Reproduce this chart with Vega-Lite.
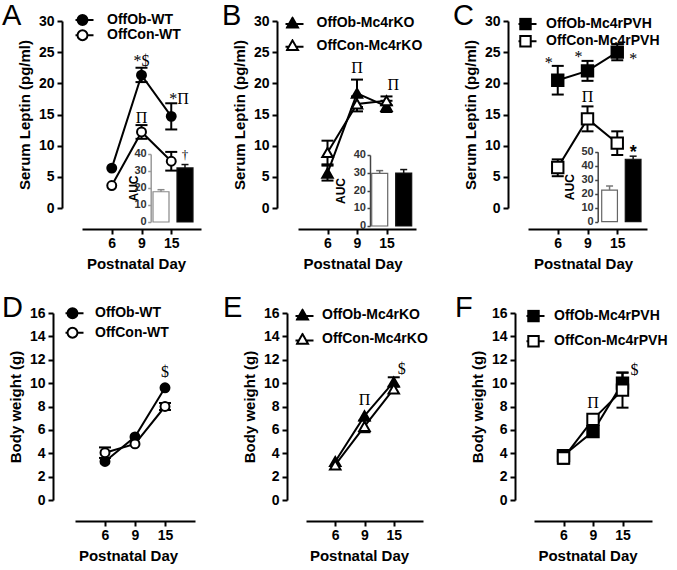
{
"$schema": "https://vega.github.io/schema/vega-lite/v6.json",
"padding": {"left": 2, "top": 1, "right": 2, "bottom": 2},
"background": "white",
"datasets": {
"ptsA": [
{"group":"OffOb-WT","day":6,"value":6.4},
{"group":"OffOb-WT","day":9,"value":21.3,"lo":20.2,"hi":22.5},
{"group":"OffOb-WT","day":15,"value":14.7,"lo":12.6,"hi":16.8},
{"group":"OffCon-WT","day":6,"value":3.6},
{"group":"OffCon-WT","day":9,"value":12.2,"lo":11.1,"hi":13.3},
{"group":"OffCon-WT","day":15,"value":7.5,"lo":6.0,"hi":9.0}],
"ptsB": [
{"group":"OffOb-Mc4rKO","day":6,"value":5.6,"lo":4.4,"hi":6.8},
{"group":"OffOb-Mc4rKO","day":9,"value":18.4,"lo":16.2,"hi":20.6},
{"group":"OffOb-Mc4rKO","day":15,"value":16.3,"lo":15.4,"hi":17.2},
{"group":"OffCon-Mc4rKO","day":6,"value":8.9,"lo":7.0,"hi":10.8},
{"group":"OffCon-Mc4rKO","day":9,"value":16.7,"lo":15.5,"hi":17.9},
{"group":"OffCon-Mc4rKO","day":15,"value":17.2,"lo":16.5,"hi":17.9}],
"ptsC": [
{"group":"OffOb-Mc4rPVH","day":6,"value":20.5,"lo":18.2,"hi":22.8},
{"group":"OffOb-Mc4rPVH","day":9,"value":22.0,"lo":20.4,"hi":23.6},
{"group":"OffOb-Mc4rPVH","day":15,"value":25.0,"lo":23.7,"hi":26.3},
{"group":"OffCon-Mc4rPVH","day":6,"value":6.5,"lo":5.1,"hi":7.8},
{"group":"OffCon-Mc4rPVH","day":9,"value":14.3,"lo":12.3,"hi":16.3},
{"group":"OffCon-Mc4rPVH","day":15,"value":10.4,"lo":8.5,"hi":12.3}],
"ptsD": [
{"group":"OffOb-WT","day":6,"value":3.3},
{"group":"OffOb-WT","day":9,"value":5.4},
{"group":"OffOb-WT","day":15,"value":9.6},
{"group":"OffCon-WT","day":6,"value":4.05,"lo":3.6,"hi":4.5},
{"group":"OffCon-WT","day":9,"value":4.8},
{"group":"OffCon-WT","day":15,"value":8.0,"lo":7.7,"hi":8.3}],
"ptsE": [
{"group":"OffOb-Mc4rKO","day":6,"value":3.3},
{"group":"OffOb-Mc4rKO","day":9,"value":7.2},
{"group":"OffOb-Mc4rKO","day":15,"value":10.1,"lo":9.7,"hi":10.5},
{"group":"OffCon-Mc4rKO","day":6,"value":3.0},
{"group":"OffCon-Mc4rKO","day":9,"value":6.3,"lo":5.8,"hi":6.8},
{"group":"OffCon-Mc4rKO","day":15,"value":9.5}],
"ptsF": [
{"group":"OffOb-Mc4rPVH","day":6,"value":3.8},
{"group":"OffOb-Mc4rPVH","day":9,"value":5.85},
{"group":"OffOb-Mc4rPVH","day":15,"value":10.0,"lo":9.1,"hi":10.9},
{"group":"OffCon-Mc4rPVH","day":6,"value":3.6,"lo":3.1,"hi":4.1},
{"group":"OffCon-Mc4rPVH","day":9,"value":6.9},
{"group":"OffCon-Mc4rPVH","day":15,"value":9.4,"lo":7.9,"hi":10.9}],
"aucA": [
{"group":"OffCon-WT","value":17.8,"hi":19.0},
{"group":"OffOb-WT","value":31.8,"hi":33.8}],
"aucB": [
{"group":"OffCon-Mc4rKO","value":29.6,"hi":31.2},
{"group":"OffOb-Mc4rKO","value":29.8,"hi":31.8}],
"aucC": [
{"group":"OffCon-Mc4rPVH","value":22.6,"hi":25.5},
{"group":"OffOb-Mc4rPVH","value":44.6,"hi":46.8}],
"aucTicks": [
{"panel":"A","tick":0},{"panel":"A","tick":10},{"panel":"A","tick":20},{"panel":"A","tick":30},{"panel":"A","tick":40},
{"panel":"B","tick":0},{"panel":"B","tick":10},{"panel":"B","tick":20},{"panel":"B","tick":30},{"panel":"B","tick":40},
{"panel":"C","tick":0},{"panel":"C","tick":10},{"panel":"C","tick":20},{"panel":"C","tick":30},{"panel":"C","tick":40},{"panel":"C","tick":50}],
"aucAnn": [
{"panel":"A","group":"OffOb-WT","value":37,"label":"†"},
{"panel":"C","group":"OffOb-Mc4rPVH","value":45.5,"label":"*"}],
"ann": [
{"panel":"A","day":9,"value":22.8,"label":"*$"},
{"panel":"A","day":15,"value":16.7,"label":"*Π"},
{"panel":"A","day":9,"value":13.6,"label":"Π"},
{"panel":"B","day":9,"value":21.7,"label":"Π"},
{"panel":"B","day":15,"value":18.9,"label":"Π"},
{"panel":"C","day":6,"value":22.5,"label":"*"},
{"panel":"C","day":9,"value":23.5,"label":"*"},
{"panel":"C","day":15,"value":23.1,"label":"*"},
{"panel":"C","day":9,"value":17.0,"label":"Π"},
{"panel":"D","day":15,"value":10.5,"label":"$"},
{"panel":"E","day":9,"value":8.1,"label":"Π"},
{"panel":"E","day":15,"value":10.8,"label":"$"},
{"panel":"F","day":9,"value":7.9,"label":"Π"},
{"panel":"F","day":15,"value":10.7,"label":"$"}]
},
"bounds": "flush",
"align": "all",
"columns": 3,
"spacing": {"row": 105, "column": 92},
"resolve": {"scale": {"fill": "independent", "stroke": "independent", "color": "independent"}, "legend": {"fill": "independent"}},
"concat": [
{
"width": 131, "height": 187,
"title": {"text": "A", "dx": -73},
"resolve": {"scale": {"x": "independent", "y": "independent"}},
"layer": [
{
"encoding": {"x": {"field": "day", "type": "ordinal", "scale": {"type": "point", "domain": [6,9,15], "padding": 1, "range": [7,126]}, "axis": {"offset": 21, "title": "Postnatal Day", "labelAngle": 0, "titleX": 61}}},
"layer": [
{"data": {"name": "ptsA"}, "mark": {"type": "line", "color": "black", "strokeWidth": 2}, "encoding": {"y": {"field": "value", "type": "quantitative", "scale": {"domain": [0,30], "nice": false}, "axis": {"offset": 13, "values": [0,5,10,15,20,25,30], "title": "Serum Leptin (pg/ml)"}}, "detail": {"field": "group"}}},
{"data": {"name": "ptsA"}, "mark": {"type": "rule", "color": "black", "strokeWidth": 2}, "encoding": {"y": {"field": "lo", "type": "quantitative", "axis": {"values": [0,5,10,15,20,25,30]}}, "y2": {"field": "hi"}}},
{"data": {"name": "ptsA"}, "mark": {"type": "tick", "color": "black", "size": 12, "thickness": 2, "opacity": 1}, "encoding": {"y": {"field": "lo", "type": "quantitative", "axis": {"values": [0,5,10,15,20,25,30]}}}},
{"data": {"name": "ptsA"}, "mark": {"type": "tick", "color": "black", "size": 12, "thickness": 2, "opacity": 1}, "encoding": {"y": {"field": "hi", "type": "quantitative", "axis": {"values": [0,5,10,15,20,25,30]}}}},
{"data": {"name": "ptsA"}, "mark": {"type": "point", "shape": "circle", "size": 80, "filled": true, "opacity": 1, "stroke": "black", "strokeWidth": 2}, "encoding": {"y": {"field": "value", "type": "quantitative", "axis": {"values": [0,5,10,15,20,25,30]}}, "fill": {"field": "group", "type": "nominal", "scale": {"domain": ["OffOb-WT","OffCon-WT"], "range": ["black","white"]}, "legend": {"orient": "none", "legendX": 0.5, "legendY": -7.5, "title": null, "symbolType": "M-2,0H-0.9M0.9,0H2M0.9,0A0.9,0.9,0,1,1,-0.9,0A0.9,0.9,0,1,1,0.9,0Z", "symbolSize": 121, "symbolStrokeColor": "black", "symbolStrokeWidth": 2, "symbolOpacity": 1, "labelFontSize": 14, "labelFontWeight": "bold", "labelColor": "black", "labelOffset": 17.5, "clipHeight": 13, "rowPadding": 0.3, "padding": 0}}}},
{"data": {"name": "ann"}, "transform": [{"filter": "datum.panel == 'A' && datum.day == 9"}], "mark": {"type": "text", "color": "black", "font": "Liberation Serif", "fontSize": 16, "align": "center", "baseline": "alphabetic"}, "encoding": {"y": {"field": "value", "type": "quantitative", "axis": {"values": [0,5,10,15,20,25,30]}}, "text": {"field": "label"}}},
{"data": {"name": "ann"}, "transform": [{"filter": "datum.panel == 'A' && datum.day == 15"}], "mark": {"type": "text", "color": "black", "font": "Liberation Serif", "fontSize": 16, "align": "left", "dx": -2, "baseline": "alphabetic"}, "encoding": {"y": {"field": "value", "type": "quantitative", "axis": {"values": [0,5,10,15,20,25,30]}}, "text": {"field": "label"}}}
]
},
{
"data": {"name": "aucA"},
"encoding": {"x": {"field": "group", "type": "nominal", "scale": {"type": "band", "domain": ["OffCon-WT","OffOb-WT"], "range": [78,118], "paddingInner": 0.333, "paddingOuter": 0}, "axis": null},
"y": {"field": "value", "type": "quantitative", "scale": {"domain": [0,40], "range": [201,133], "nice": false}, "axis": {"orient": "left", "offset": -75.7, "values": [0,10,20,30,40], "title": "AUC", "titleFontSize": 12, "titlePadding": 6.5, "labels": false, "domainColor": "#999", "domainWidth": 1.5, "tickColor": "#999", "tickWidth": 1.5, "tickSize": 3}}},
"layer": [
{"mark": {"type": "bar", "strokeWidth": 1.2}, "encoding": {"fill": {"field": "group", "type": "nominal"}, "stroke": {"field": "group", "type": "nominal", "scale": {"domain": ["OffCon-WT","OffOb-WT"], "range": ["#888","#111"]}, "legend": null}}},
{"mark": {"type": "rule", "strokeWidth": 1.5}, "encoding": {"y2": {"field": "hi"}, "color": {"field": "group", "type": "nominal", "scale": {"domain": ["OffCon-WT","OffOb-WT"], "range": ["#888","#111"]}, "legend": null}}},
{"mark": {"type": "tick", "size": 7, "thickness": 1.5, "opacity": 1}, "encoding": {"y": {"field": "hi", "type": "quantitative", "axis": {"orient": "left", "offset": -75.7, "values": [0,10,20,30,40], "title": "AUC", "titleFontSize": 12, "titlePadding": 6.5, "labels": false, "domainColor": "#999", "domainWidth": 1.5, "tickColor": "#999", "tickWidth": 1.5, "tickSize": 3}}, "color": {"field": "group", "type": "nominal", "legend": null}}},
{"data": {"name": "aucTicks"}, "transform": [{"filter": "datum.panel == 'A'"}], "mark": {"type": "text", "color": "#333", "font": "Liberation Sans", "fontWeight": "bold", "fontSize": 11, "align": "right", "baseline": "middle", "dx": -6.3}, "encoding": {"x": {"datum": "OffCon-WT", "bandPosition": 0}, "y": {"field": "tick", "type": "quantitative", "axis": {"orient": "left", "offset": -75.7, "values": [0,10,20,30,40], "title": "AUC", "titleFontSize": 12, "titlePadding": 6.5, "labels": false, "domainColor": "#999", "domainWidth": 1.5, "tickColor": "#999", "tickWidth": 1.5, "tickSize": 3}}, "text": {"field": "tick", "type": "quantitative"}}},
{"data": {"name": "aucAnn"}, "transform": [{"filter": "datum.panel == 'A'"}], "mark": {"type": "text", "color": "black", "font": "Liberation Serif", "fontSize": 13, "align": "center", "baseline": "alphabetic"}, "encoding": {"text": {"field": "label"}}}
]
}
]
},
{
"width": 131, "height": 187,
"title": {"text": "B", "dx": -76},
"resolve": {"scale": {"x": "independent", "y": "independent"}},
"layer": [
{
"encoding": {"x": {"field": "day", "type": "ordinal", "scale": {"type": "point", "domain": [6,9,15], "padding": 1, "range": [0,118]}, "axis": {"offset": 21, "title": "Postnatal Day", "labelAngle": 0, "titleX": 54.5}}},
"layer": [
{"data": {"name": "ptsB"}, "mark": {"type": "line", "color": "black", "strokeWidth": 2}, "encoding": {"y": {"field": "value", "type": "quantitative", "scale": {"domain": [0,30], "nice": false}, "axis": {"offset": 21, "values": [0,5,10,15,20,25,30], "title": "Serum Leptin (pg/ml)"}}, "detail": {"field": "group"}}},
{"data": {"name": "ptsB"}, "mark": {"type": "rule", "color": "black", "strokeWidth": 2}, "encoding": {"y": {"field": "lo", "type": "quantitative", "axis": {"values": [0,5,10,15,20,25,30]}}, "y2": {"field": "hi"}}},
{"data": {"name": "ptsB"}, "mark": {"type": "tick", "color": "black", "size": 12, "thickness": 2, "opacity": 1}, "encoding": {"y": {"field": "lo", "type": "quantitative", "axis": {"values": [0,5,10,15,20,25,30]}}}},
{"data": {"name": "ptsB"}, "mark": {"type": "tick", "color": "black", "size": 12, "thickness": 2, "opacity": 1}, "encoding": {"y": {"field": "hi", "type": "quantitative", "axis": {"values": [0,5,10,15,20,25,30]}}}},
{"data": {"name": "ptsB"}, "mark": {"type": "point", "shape": "triangle-up", "size": 110, "filled": true, "opacity": 1, "stroke": "black", "strokeWidth": 2}, "encoding": {"y": {"field": "value", "type": "quantitative", "axis": {"values": [0,5,10,15,20,25,30]}}, "fill": {"field": "group", "type": "nominal", "scale": {"domain": ["OffOb-Mc4rKO","OffCon-Mc4rKO"], "range": ["black","white"]}, "legend": {"orient": "none", "legendX": -12.5, "legendY": -4.5, "title": null, "symbolType": "M-2,0.2H-0.66M0.66,0.2H2M0,-0.95L1,0.8L-1,0.8Z", "symbolSize": 121, "symbolStrokeColor": "black", "symbolStrokeWidth": 2, "symbolOpacity": 1, "labelFontSize": 14, "labelFontWeight": "bold", "labelColor": "black", "labelOffset": 17, "clipHeight": 13, "rowPadding": 7.6, "padding": 0}}}},
{"data": {"name": "ann"}, "transform": [{"filter": "datum.panel == 'B' && datum.day == 9"}], "mark": {"type": "text", "color": "black", "font": "Liberation Serif", "fontSize": 16, "align": "center", "baseline": "alphabetic"}, "encoding": {"y": {"field": "value", "type": "quantitative", "axis": {"values": [0,5,10,15,20,25,30]}}, "text": {"field": "label"}}},
{"data": {"name": "ann"}, "transform": [{"filter": "datum.panel == 'B' && datum.day == 15"}], "mark": {"type": "text", "color": "black", "font": "Liberation Serif", "fontSize": 16, "align": "left", "dx": 1, "baseline": "alphabetic"}, "encoding": {"y": {"field": "value", "type": "quantitative", "axis": {"values": [0,5,10,15,20,25,30]}}, "text": {"field": "label"}}}
]
},
{
"data": {"name": "aucB"},
"encoding": {"x": {"field": "group", "type": "nominal", "scale": {"type": "band", "domain": ["OffCon-Mc4rKO","OffOb-Mc4rKO"], "range": [73.7,113.7], "paddingInner": 0.333, "paddingOuter": 0}, "axis": null},
"y": {"field": "value", "type": "quantitative", "scale": {"domain": [0,40], "range": [205,134], "nice": false}, "axis": {"orient": "left", "offset": -72, "values": [0,10,20,30,40], "title": "AUC", "titleFontSize": 12, "titlePadding": 19, "labels": false, "domainColor": "#444", "domainWidth": 1.5, "tickColor": "#444", "tickWidth": 1.5, "tickSize": 3}}},
"layer": [
{"mark": {"type": "bar", "strokeWidth": 1.2}, "encoding": {"fill": {"field": "group", "type": "nominal"}, "stroke": {"field": "group", "type": "nominal", "scale": {"domain": ["OffCon-Mc4rKO","OffOb-Mc4rKO"], "range": ["#666","#111"]}, "legend": null}}},
{"mark": {"type": "rule", "strokeWidth": 1.5}, "encoding": {"y2": {"field": "hi"}, "color": {"field": "group", "type": "nominal", "scale": {"domain": ["OffCon-Mc4rKO","OffOb-Mc4rKO"], "range": ["#666","#111"]}, "legend": null}}},
{"mark": {"type": "tick", "size": 7, "thickness": 1.5, "opacity": 1}, "encoding": {"y": {"field": "hi", "type": "quantitative", "axis": {"orient": "left", "offset": -72, "values": [0,10,20,30,40], "title": "AUC", "titleFontSize": 12, "titlePadding": 19, "labels": false, "domainColor": "#444", "domainWidth": 1.5, "tickColor": "#444", "tickWidth": 1.5, "tickSize": 3}}, "color": {"field": "group", "type": "nominal", "legend": null}}},
{"data": {"name": "aucTicks"}, "transform": [{"filter": "datum.panel == 'B'"}], "mark": {"type": "text", "color": "#333", "font": "Liberation Sans", "fontWeight": "bold", "fontSize": 11, "align": "right", "baseline": "middle", "dx": -5.7}, "encoding": {"x": {"datum": "OffCon-Mc4rKO", "bandPosition": 0}, "y": {"field": "tick", "type": "quantitative", "axis": {"orient": "left", "offset": -72, "values": [0,10,20,30,40], "title": "AUC", "titleFontSize": 12, "titlePadding": 19, "labels": false, "domainColor": "#444", "domainWidth": 1.5, "tickColor": "#444", "tickWidth": 1.5, "tickSize": 3}}, "text": {"field": "tick", "type": "quantitative"}}}
]
}
]
},
{
"width": 131, "height": 187,
"title": {"text": "C", "dx": -68},
"resolve": {"scale": {"x": "independent", "y": "independent"}},
"layer": [
{
"encoding": {"x": {"field": "day", "type": "ordinal", "scale": {"type": "point", "domain": [6,9,15], "padding": 1, "range": [7,126]}, "axis": {"offset": 21, "title": "Postnatal Day", "labelAngle": 0, "titleX": 62}}},
"layer": [
{"data": {"name": "ptsC"}, "mark": {"type": "line", "color": "black", "strokeWidth": 2}, "encoding": {"y": {"field": "value", "type": "quantitative", "scale": {"domain": [0,30], "nice": false}, "axis": {"offset": 13, "values": [0,5,10,15,20,25,30], "title": "Serum Leptin (pg/ml)"}}, "detail": {"field": "group"}}},
{"data": {"name": "ptsC"}, "mark": {"type": "rule", "color": "black", "strokeWidth": 2}, "encoding": {"y": {"field": "lo", "type": "quantitative", "axis": {"values": [0,5,10,15,20,25,30]}}, "y2": {"field": "hi"}}},
{"data": {"name": "ptsC"}, "mark": {"type": "tick", "color": "black", "size": 12, "thickness": 2, "opacity": 1}, "encoding": {"y": {"field": "lo", "type": "quantitative", "axis": {"values": [0,5,10,15,20,25,30]}}}},
{"data": {"name": "ptsC"}, "mark": {"type": "tick", "color": "black", "size": 12, "thickness": 2, "opacity": 1}, "encoding": {"y": {"field": "hi", "type": "quantitative", "axis": {"values": [0,5,10,15,20,25,30]}}}},
{"data": {"name": "ptsC"}, "mark": {"type": "point", "shape": "square", "size": 130, "filled": true, "opacity": 1, "stroke": "black", "strokeWidth": 2}, "encoding": {"y": {"field": "value", "type": "quantitative", "axis": {"values": [0,5,10,15,20,25,30]}}, "fill": {"field": "group", "type": "nominal", "scale": {"domain": ["OffOb-Mc4rPVH","OffCon-Mc4rPVH"], "range": ["black","white"]}, "legend": {"orient": "none", "legendX": -2.5, "legendY": -3.5, "title": null, "symbolType": "M-2,0H-0.95M0.95,0H2M-0.95,-0.95H0.95V0.95H-0.95Z", "symbolSize": 121, "symbolStrokeColor": "black", "symbolStrokeWidth": 2, "symbolOpacity": 1, "labelFontSize": 14, "labelFontWeight": "bold", "labelColor": "black", "labelOffset": 13.5, "clipHeight": 13, "rowPadding": 2.3, "padding": 0}}}},
{"data": {"name": "ann"}, "transform": [{"filter": "datum.panel == 'C' && datum.label == 'Π'"}], "mark": {"type": "text", "color": "black", "font": "Liberation Serif", "fontSize": 16, "align": "center", "baseline": "alphabetic"}, "encoding": {"y": {"field": "value", "type": "quantitative", "axis": {"values": [0,5,10,15,20,25,30]}}, "text": {"field": "label"}}},
{"data": {"name": "ann"}, "transform": [{"filter": "datum.panel == 'C' && datum.label == '*' && datum.day < 15"}], "mark": {"type": "text", "color": "black", "font": "Liberation Serif", "fontSize": 16, "align": "right", "dx": -5, "baseline": "alphabetic"}, "encoding": {"y": {"field": "value", "type": "quantitative", "axis": {"values": [0,5,10,15,20,25,30]}}, "text": {"field": "label"}}},
{"data": {"name": "ann"}, "transform": [{"filter": "datum.panel == 'C' && datum.day == 15"}], "mark": {"type": "text", "color": "black", "font": "Liberation Serif", "fontSize": 16, "align": "left", "dx": 12, "baseline": "alphabetic"}, "encoding": {"y": {"field": "value", "type": "quantitative", "axis": {"values": [0,5,10,15,20,25,30]}}, "text": {"field": "label"}}}
]
},
{
"data": {"name": "aucC"},
"encoding": {"x": {"field": "group", "type": "nominal", "scale": {"type": "band", "domain": ["OffCon-Mc4rPVH","OffOb-Mc4rPVH"], "range": [80.7,120], "paddingInner": 0.333, "paddingOuter": 0}, "axis": null},
"y": {"field": "value", "type": "quantitative", "scale": {"domain": [0,50], "range": [200.7,130.7], "nice": false}, "axis": {"orient": "left", "offset": -76.7, "values": [0,10,20,30,40,50], "title": "AUC", "titleFontSize": 12, "titlePadding": 17, "labels": false, "domainColor": "#444", "domainWidth": 1.5, "tickColor": "#444", "tickWidth": 1.5, "tickSize": 3}}},
"layer": [
{"mark": {"type": "bar", "strokeWidth": 1.2}, "encoding": {"fill": {"field": "group", "type": "nominal"}, "stroke": {"field": "group", "type": "nominal", "scale": {"domain": ["OffCon-Mc4rPVH","OffOb-Mc4rPVH"], "range": ["#666","#111"]}, "legend": null}}},
{"mark": {"type": "rule", "strokeWidth": 1.5}, "encoding": {"y2": {"field": "hi"}, "color": {"field": "group", "type": "nominal", "scale": {"domain": ["OffCon-Mc4rPVH","OffOb-Mc4rPVH"], "range": ["#777","#111"]}, "legend": null}}},
{"mark": {"type": "tick", "size": 7, "thickness": 1.5, "opacity": 1}, "encoding": {"y": {"field": "hi", "type": "quantitative", "axis": {"orient": "left", "offset": -76.7, "values": [0,10,20,30,40,50], "title": "AUC", "titleFontSize": 12, "titlePadding": 17, "labels": false, "domainColor": "#444", "domainWidth": 1.5, "tickColor": "#444", "tickWidth": 1.5, "tickSize": 3}}, "color": {"field": "group", "type": "nominal", "legend": null}}},
{"data": {"name": "aucTicks"}, "transform": [{"filter": "datum.panel == 'C'"}], "mark": {"type": "text", "color": "#333", "font": "Liberation Sans", "fontWeight": "bold", "fontSize": 11, "align": "right", "baseline": "middle", "dx": -8}, "encoding": {"x": {"datum": "OffCon-Mc4rPVH", "bandPosition": 0}, "y": {"field": "tick", "type": "quantitative", "axis": {"orient": "left", "offset": -76.7, "values": [0,10,20,30,40,50], "title": "AUC", "titleFontSize": 12, "titlePadding": 17, "labels": false, "domainColor": "#444", "domainWidth": 1.5, "tickColor": "#444", "tickWidth": 1.5, "tickSize": 3}}, "text": {"field": "tick", "type": "quantitative"}}},
{"data": {"name": "aucAnn"}, "transform": [{"filter": "datum.panel == 'C'"}], "mark": {"type": "text", "color": "black", "font": "Liberation Sans", "fontWeight": "bold", "fontSize": 18, "align": "center", "baseline": "alphabetic"}, "encoding": {"text": {"field": "label"}}}
]
}
]
},
{
"width": 131, "height": 187,
"title": {"text": "D", "dx": -73},
"encoding": {"x": {"field": "day", "type": "ordinal", "scale": {"type": "point", "domain": [6,9,15], "padding": 1, "range": [0,120]}, "axis": {"offset": 21, "title": "Postnatal Day", "labelAngle": 0, "titleX": 53}}},
"layer": [
{"data": {"name": "ptsD"}, "mark": {"type": "line", "color": "black", "strokeWidth": 2}, "encoding": {"y": {"field": "value", "type": "quantitative", "scale": {"domain": [0,16], "nice": false}, "axis": {"offset": 22, "values": [0,2,4,6,8,10,12,14,16], "title": "Body weight (g)"}}, "detail": {"field": "group"}}},
{"data": {"name": "ptsD"}, "mark": {"type": "rule", "color": "black", "strokeWidth": 2}, "encoding": {"y": {"field": "lo", "type": "quantitative", "axis": {"values": [0,2,4,6,8,10,12,14,16]}}, "y2": {"field": "hi"}}},
{"data": {"name": "ptsD"}, "mark": {"type": "tick", "color": "black", "size": 12, "thickness": 2, "opacity": 1}, "encoding": {"y": {"field": "lo", "type": "quantitative", "axis": {"values": [0,2,4,6,8,10,12,14,16]}}}},
{"data": {"name": "ptsD"}, "mark": {"type": "tick", "color": "black", "size": 12, "thickness": 2, "opacity": 1}, "encoding": {"y": {"field": "hi", "type": "quantitative", "axis": {"values": [0,2,4,6,8,10,12,14,16]}}}},
{"data": {"name": "ptsD"}, "mark": {"type": "point", "shape": "circle", "size": 80, "filled": true, "opacity": 1, "stroke": "black", "strokeWidth": 2}, "encoding": {"y": {"field": "value", "type": "quantitative", "axis": {"values": [0,2,4,6,8,10,12,14,16]}}, "fill": {"field": "group", "type": "nominal", "scale": {"domain": ["OffOb-WT","OffCon-WT"], "range": ["black","white"]}, "legend": {"orient": "none", "legendX": -9.5, "legendY": -6.2, "title": null, "symbolType": "M-2,0H-0.9M0.9,0H2M0.9,0A0.9,0.9,0,1,1,-0.9,0A0.9,0.9,0,1,1,0.9,0Z", "symbolSize": 121, "symbolStrokeColor": "black", "symbolStrokeWidth": 2, "symbolOpacity": 1, "labelFontSize": 14, "labelFontWeight": "bold", "labelColor": "black", "labelOffset": 15.5, "clipHeight": 13, "rowPadding": 4.4, "padding": 0}}}},
{"data": {"name": "ann"}, "transform": [{"filter": "datum.panel == 'D'"}], "mark": {"type": "text", "color": "black", "font": "Liberation Serif", "fontSize": 16, "align": "center", "baseline": "alphabetic"}, "encoding": {"y": {"field": "value", "type": "quantitative", "axis": {"values": [0,2,4,6,8,10,12,14,16]}}, "text": {"field": "label"}}}
]
},
{
"width": 131, "height": 187,
"title": {"text": "E", "dx": -75},
"encoding": {"x": {"field": "day", "type": "ordinal", "scale": {"type": "point", "domain": [6,9,15], "padding": 1, "range": [8,125]}, "axis": {"offset": 21, "title": "Postnatal Day", "labelAngle": 0, "titleX": 61}}},
"layer": [
{"data": {"name": "ptsE"}, "mark": {"type": "line", "color": "black", "strokeWidth": 2}, "encoding": {"y": {"field": "value", "type": "quantitative", "scale": {"domain": [0,16], "nice": false}, "axis": {"offset": 11, "values": [0,2,4,6,8,10,12,14,16], "title": "Body weight (g)"}}, "detail": {"field": "group"}}},
{"data": {"name": "ptsE"}, "mark": {"type": "rule", "color": "black", "strokeWidth": 2}, "encoding": {"y": {"field": "lo", "type": "quantitative", "axis": {"values": [0,2,4,6,8,10,12,14,16]}}, "y2": {"field": "hi"}}},
{"data": {"name": "ptsE"}, "mark": {"type": "tick", "color": "black", "size": 12, "thickness": 2, "opacity": 1}, "encoding": {"y": {"field": "lo", "type": "quantitative", "axis": {"values": [0,2,4,6,8,10,12,14,16]}}}},
{"data": {"name": "ptsE"}, "mark": {"type": "tick", "color": "black", "size": 12, "thickness": 2, "opacity": 1}, "encoding": {"y": {"field": "hi", "type": "quantitative", "axis": {"values": [0,2,4,6,8,10,12,14,16]}}}},
{"data": {"name": "ptsE"}, "mark": {"type": "point", "shape": "triangle-up", "size": 110, "filled": true, "opacity": 1, "stroke": "black", "strokeWidth": 2}, "encoding": {"y": {"field": "value", "type": "quantitative", "axis": {"values": [0,2,4,6,8,10,12,14,16]}}, "fill": {"field": "group", "type": "nominal", "scale": {"domain": ["OffOb-Mc4rKO","OffCon-Mc4rKO"], "range": ["black","white"]}, "legend": {"orient": "none", "legendX": -2.5, "legendY": -4.5, "title": null, "symbolType": "M-2,0.2H-0.66M0.66,0.2H2M0,-0.95L1,0.8L-1,0.8Z", "symbolSize": 121, "symbolStrokeColor": "black", "symbolStrokeWidth": 2, "symbolOpacity": 1, "labelFontSize": 14, "labelFontWeight": "bold", "labelColor": "black", "labelOffset": 12.5, "clipHeight": 13, "rowPadding": 9.3, "padding": 0}}}},
{"data": {"name": "ann"}, "transform": [{"filter": "datum.panel == 'E' && datum.day == 9"}], "mark": {"type": "text", "color": "black", "font": "Liberation Serif", "fontSize": 16, "align": "center", "baseline": "alphabetic"}, "encoding": {"y": {"field": "value", "type": "quantitative", "axis": {"values": [0,2,4,6,8,10,12,14,16]}}, "text": {"field": "label"}}},
{"data": {"name": "ann"}, "transform": [{"filter": "datum.panel == 'E' && datum.day == 15"}], "mark": {"type": "text", "color": "black", "font": "Liberation Serif", "fontSize": 16, "align": "left", "dx": 4, "baseline": "alphabetic"}, "encoding": {"y": {"field": "value", "type": "quantitative", "axis": {"values": [0,2,4,6,8,10,12,14,16]}}, "text": {"field": "label"}}}
]
},
{
"width": 131, "height": 187,
"title": {"text": "F", "dx": -66},
"encoding": {"x": {"field": "day", "type": "ordinal", "scale": {"type": "point", "domain": [6,9,15], "padding": 1, "range": [13,131]}, "axis": {"offset": 21, "title": "Postnatal Day", "labelAngle": 0, "titleX": 66.5}}},
"layer": [
{"data": {"name": "ptsF"}, "mark": {"type": "line", "color": "black", "strokeWidth": 2}, "encoding": {"y": {"field": "value", "type": "quantitative", "scale": {"domain": [0,16], "nice": false}, "axis": {"offset": 6, "values": [0,2,4,6,8,10,12,14,16], "title": "Body weight (g)"}}, "detail": {"field": "group"}}},
{"data": {"name": "ptsF"}, "mark": {"type": "rule", "color": "black", "strokeWidth": 2}, "encoding": {"y": {"field": "lo", "type": "quantitative", "axis": {"values": [0,2,4,6,8,10,12,14,16]}}, "y2": {"field": "hi"}}},
{"data": {"name": "ptsF"}, "mark": {"type": "tick", "color": "black", "size": 12, "thickness": 2, "opacity": 1}, "encoding": {"y": {"field": "lo", "type": "quantitative", "axis": {"values": [0,2,4,6,8,10,12,14,16]}}}},
{"data": {"name": "ptsF"}, "mark": {"type": "tick", "color": "black", "size": 12, "thickness": 2, "opacity": 1}, "encoding": {"y": {"field": "hi", "type": "quantitative", "axis": {"values": [0,2,4,6,8,10,12,14,16]}}}},
{"data": {"name": "ptsF"}, "mark": {"type": "point", "shape": "square", "size": 130, "filled": true, "opacity": 1, "stroke": "black", "strokeWidth": 2}, "encoding": {"y": {"field": "value", "type": "quantitative", "axis": {"values": [0,2,4,6,8,10,12,14,16]}}, "fill": {"field": "group", "type": "nominal", "scale": {"domain": ["OffOb-Mc4rPVH","OffCon-Mc4rPVH"], "range": ["black","white"]}, "legend": {"orient": "none", "legendX": 5.5, "legendY": -3.5, "title": null, "symbolType": "M-2,0H-0.95M0.95,0H2M-0.95,-0.95H0.95V0.95H-0.95Z", "symbolSize": 121, "symbolStrokeColor": "black", "symbolStrokeWidth": 2, "symbolOpacity": 1, "labelFontSize": 14, "labelFontWeight": "bold", "labelColor": "black", "labelOffset": 13.5, "clipHeight": 13, "rowPadding": 10.3, "padding": 0}}}},
{"data": {"name": "ann"}, "transform": [{"filter": "datum.panel == 'F' && datum.day == 9"}], "mark": {"type": "text", "color": "black", "font": "Liberation Serif", "fontSize": 16, "align": "center", "baseline": "alphabetic"}, "encoding": {"y": {"field": "value", "type": "quantitative", "axis": {"values": [0,2,4,6,8,10,12,14,16]}}, "text": {"field": "label"}}},
{"data": {"name": "ann"}, "transform": [{"filter": "datum.panel == 'F' && datum.day == 15"}], "mark": {"type": "text", "color": "black", "font": "Liberation Serif", "fontSize": 16, "align": "left", "dx": 8, "baseline": "alphabetic"}, "encoding": {"y": {"field": "value", "type": "quantitative", "axis": {"values": [0,2,4,6,8,10,12,14,16]}}, "text": {"field": "label"}}}
]
}
],
"config": {
"view": {"stroke": null},
"font": "Liberation Sans",
"title": {"font": "Liberation Sans", "fontSize": 29, "fontWeight": "normal", "anchor": "start", "frame": "group", "color": "black", "baseline": "alphabetic", "offset": 0, "dy": 21},
"axis": {"domainColor": "black", "domainWidth": 2, "tickColor": "black", "tickWidth": 2, "tickSize": 5, "labelFont": "Liberation Sans", "labelFontWeight": "bold", "labelFontSize": 14, "labelColor": "black", "titleFont": "Liberation Sans", "titleFontWeight": "bold", "titleFontSize": 15, "titleColor": "black", "grid": false},
"axisX": {"labelPadding": 2, "titlePadding": 6},
"axisY": {"labelPadding": 3, "titlePadding": 6},
"legend": {"labelFont": "Liberation Sans"}
}
}
